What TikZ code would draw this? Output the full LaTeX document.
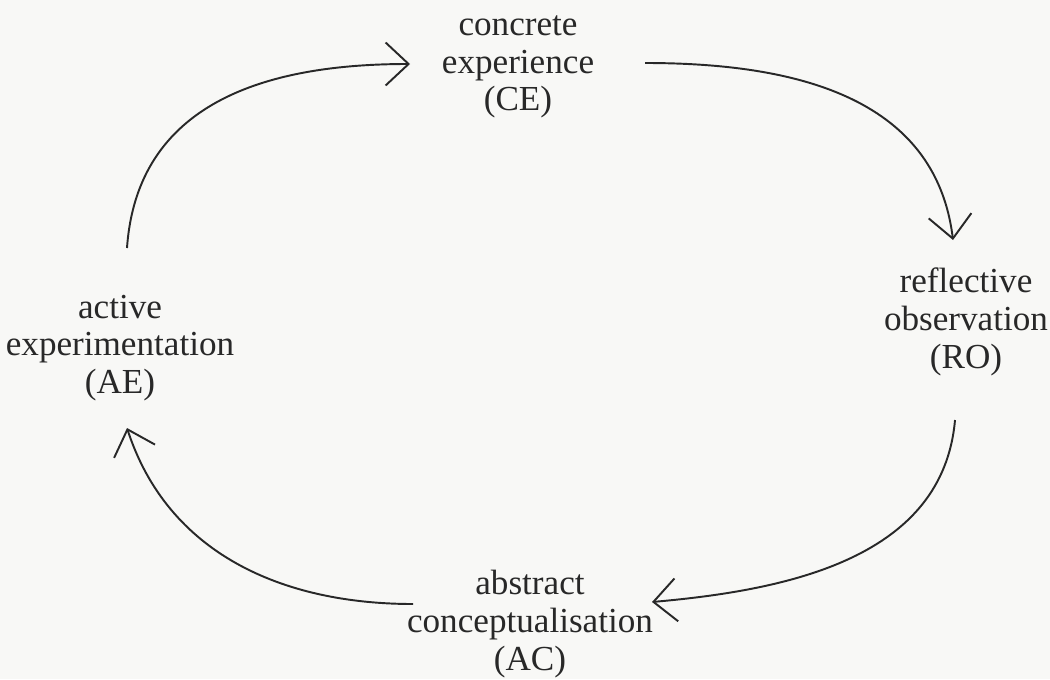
\documentclass[tikz,border=0pt]{standalone}
\usepackage{fontspec}
\setmainfont{Liberation Serif}
\usetikzlibrary{arrows.meta}
\definecolor{bg}{RGB}{248,248,246}
\definecolor{ink}{RGB}{40,40,40}
\tikzset{
  lbl/.style={align=center, text=ink, inner sep=0pt, font=\fontsize{20}{21.5}\selectfont},
  cyc/.style={draw=ink, line width=1.1pt, -{Straight Barb[length=0.46cm, width=0.86cm, line width=1.1pt]}}
}
\begin{document}
\begin{tikzpicture}[x={(0.02cm,0)}, y={(0,-0.02cm)}]
\fill[bg] (0,0) rectangle (1050,679);
\useasboundingbox (0,0) rectangle (1050,679);
\node[lbl] (ce) at (518,67) {concrete\\experience\\(CE)};
\node[lbl] (ro) at (966,322) {reflective\\observation\\(RO)};
\node[lbl] (ac) at (530,624) {abstract\\conceptualisation\\(AC)};
\node[lbl] (ae) at (120,348) {active\\experimentation\\(AE)};
\coordinate (a1s) at (127,248);
\coordinate (a1e) at (410,64);
\coordinate (a2s) at (645,63);
\coordinate (a2e) at (953,240);
\coordinate (a3s) at (955,420);
\coordinate (a3e) at (652,602);
\coordinate (a4s) at (413,604);
\coordinate (a4e) at (127,428);
\draw[cyc] (a1s) to[out=86, in=180, looseness=1.1] (a1e);
\draw[cyc] (a2s) to[out=0, in=97, looseness=1.05] (a2e);
\draw[cyc] (a3s) to[out=-95, in=5, looseness=1.0] (a3e);
\draw[cyc] (a4s) to[out=180, in=-72, looseness=1.0] (a4e);
\end{tikzpicture}
\end{document}
